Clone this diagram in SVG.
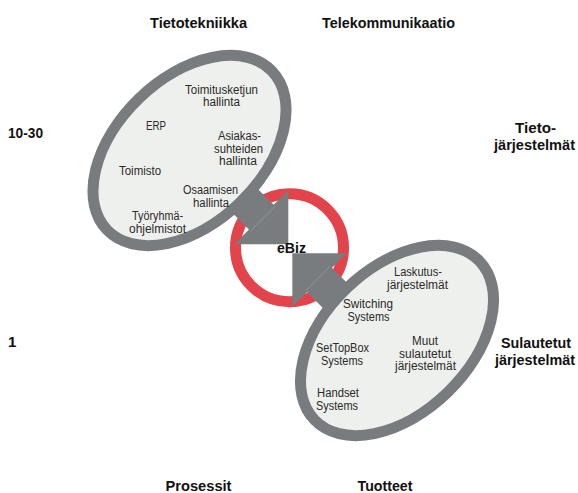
<svg xmlns="http://www.w3.org/2000/svg" width="578" height="493" viewBox="0 0 578 493">
<style>
.t{font-family:"Liberation Sans",Arial,sans-serif;font-size:12.5px;fill:#2a2a2a;text-anchor:middle}
.b{font-family:"Liberation Sans",Arial,sans-serif;font-size:15px;font-weight:bold;fill:#111;text-anchor:middle}
.s{text-anchor:start}
.ell{fill:#eef0ed;stroke:#797c7f;stroke-width:11}
.arr{fill:#797c7f}
.seam{stroke:#9a9da0;stroke-width:0.8;fill:none}
</style>
<rect width="578" height="493" fill="#fff"/>
<g id="axis-labels">
<text class="b" x="198.5" y="28" textLength="97" lengthAdjust="spacingAndGlyphs">Tietotekniikka</text>
<text class="b" x="388.5" y="28" textLength="133" lengthAdjust="spacingAndGlyphs">Telekommunikaatio</text>
<text class="b s" x="8" y="138" textLength="35" lengthAdjust="spacingAndGlyphs">10-30</text>
<text class="b s" x="8" y="347">1</text>
<text class="b" x="535.5" y="133" textLength="41" lengthAdjust="spacingAndGlyphs">Tieto-</text>
<text class="b" x="534.5" y="150" textLength="81" lengthAdjust="spacingAndGlyphs">järjestelmät</text>
<text class="b" x="536" y="348" textLength="70" lengthAdjust="spacingAndGlyphs">Sulautetut</text>
<text class="b" x="535" y="365" textLength="80" lengthAdjust="spacingAndGlyphs">järjestelmät</text>
<text class="b" x="198.5" y="491" textLength="66" lengthAdjust="spacingAndGlyphs">Prosessit</text>
<text class="b" x="385" y="491" textLength="55" lengthAdjust="spacingAndGlyphs">Tuotteet</text>
</g>
<g id="ebiz">
<circle cx="289.5" cy="247.7" r="54" fill="none" stroke="#e3434b" stroke-width="11"/>
</g>
<g id="connectors">
<polygon class="arr" points="231.9,163.1 275.2,206.3 250.4,231.1 207.2,187.8"/>
<polygon class="arr" points="288.3,190 288.3,244.3 234.3,244.3"/>
<line class="seam" x1="275.2" y1="206.3" x2="250.4" y2="231.1"/>
<polygon class="arr" points="329.1,264.9 372.1,307.9 347.4,332.6 304.4,289.6"/>
<polygon class="arr" points="292.3,253.3 346.7,253.3 292.3,306.7"/>
<line class="seam" x1="330.4" y1="266.1" x2="305.6" y2="291"/>
</g>
<g id="ebiz-label">
<text class="b" x="291.5" y="253" textLength="29" lengthAdjust="spacingAndGlyphs">eBiz</text>
</g>
<g id="it-ellipse">
<ellipse class="ell" cx="189.5" cy="150.5" rx="114.5" ry="72.5" transform="rotate(-44 189.5 150.5)"/>
<text class="t" x="221.5" y="93.5" textLength="73" lengthAdjust="spacingAndGlyphs">Toimitusketjun</text>
<text class="t" x="221.5" y="106" textLength="37" lengthAdjust="spacingAndGlyphs">hallinta</text>
<text class="t" x="156" y="130" textLength="20" lengthAdjust="spacingAndGlyphs">ERP</text>
<text class="t" x="239.5" y="140" textLength="43" lengthAdjust="spacingAndGlyphs">Asiakas-</text>
<text class="t" x="238.5" y="152.5" textLength="49" lengthAdjust="spacingAndGlyphs">suhteiden</text>
<text class="t" x="238" y="165" textLength="38" lengthAdjust="spacingAndGlyphs">hallinta</text>
<text class="t" x="140" y="175" textLength="42" lengthAdjust="spacingAndGlyphs">Toimisto</text>
<text class="t" x="210.5" y="194" textLength="55" lengthAdjust="spacingAndGlyphs">Osaamisen</text>
<text class="t" x="211" y="206.5" textLength="36" lengthAdjust="spacingAndGlyphs">hallinta</text>
<text class="t" x="157.5" y="220" textLength="51" lengthAdjust="spacingAndGlyphs">Työryhmä-</text>
<text class="t" x="157.5" y="233" textLength="57" lengthAdjust="spacingAndGlyphs">ohjelmistot</text>
</g>
<g id="embedded-ellipse">
<ellipse class="ell" cx="397" cy="340.5" rx="114.5" ry="72.5" transform="rotate(-44 397 340.5)"/>
<text class="t" x="418" y="276" textLength="48" lengthAdjust="spacingAndGlyphs">Laskutus-</text>
<text class="t" x="417.5" y="288.5" textLength="61" lengthAdjust="spacingAndGlyphs">järjestelmät</text>
<text class="t" x="368" y="308" textLength="50" lengthAdjust="spacingAndGlyphs">Switching</text>
<text class="t" x="368.5" y="320.5" textLength="42" lengthAdjust="spacingAndGlyphs">Systems</text>
<text class="t" x="342.5" y="352" textLength="53" lengthAdjust="spacingAndGlyphs">SetTopBox</text>
<text class="t" x="342" y="364.5" textLength="42" lengthAdjust="spacingAndGlyphs">Systems</text>
<text class="t" x="425" y="345" textLength="26" lengthAdjust="spacingAndGlyphs">Muut</text>
<text class="t" x="425" y="357.5" textLength="52" lengthAdjust="spacingAndGlyphs">sulautetut</text>
<text class="t" x="425.5" y="370" textLength="61" lengthAdjust="spacingAndGlyphs">järjestelmät</text>
<text class="t" x="338" y="397" textLength="42" lengthAdjust="spacingAndGlyphs">Handset</text>
<text class="t" x="337" y="409.5" textLength="42" lengthAdjust="spacingAndGlyphs">Systems</text>
</g>
</svg>
